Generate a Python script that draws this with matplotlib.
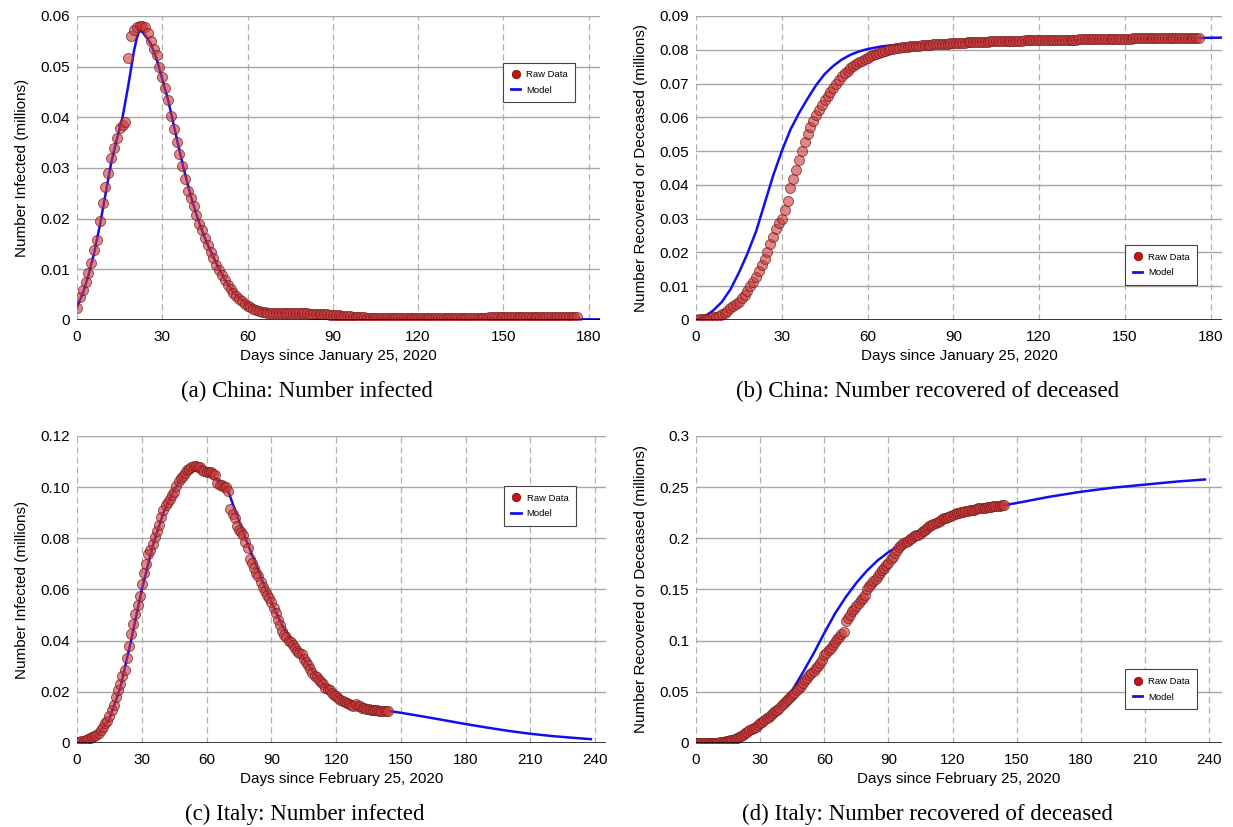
import numpy as np
import matplotlib
matplotlib.use("Agg")
import matplotlib.pyplot as plt
from matplotlib.lines import Line2D

plt.rcParams['font.family'] = ['Liberation Sans', 'DejaVu Sans']

# ---- China, active infections (millions), one value per day since Jan 25 ----
china_infected = [
    0.0023, 0.0045, 0.0060, 0.0074, 0.0092, 0.0113, 0.0138, 0.0158, 0.0195, 0.0230,
    0.0263, 0.0290, 0.0320, 0.0340, 0.0360, 0.0378, 0.0385, 0.0390, 0.0518, 0.0560,
    0.0572, 0.0578, 0.0580, 0.0580, 0.0578, 0.0566, 0.0550, 0.0535, 0.0522, 0.0500,
    0.0480, 0.0458, 0.0435, 0.0402, 0.0376, 0.0352, 0.0327, 0.0303, 0.0278, 0.0255,
    0.0240, 0.0224, 0.0207, 0.0190, 0.0177, 0.0161, 0.0148, 0.0135, 0.0122, 0.0109,
    0.0099, 0.0088, 0.0078, 0.0069, 0.0061, 0.0054, 0.0048, 0.0042, 0.0037, 0.0032,
    0.0028, 0.0025, 0.0022, 0.0020, 0.0018, 0.0016, 0.0015, 0.0014, 0.0014, 0.0014,
    0.0014, 0.0014, 0.0013, 0.0013, 0.0013, 0.0013, 0.0013, 0.0013, 0.0013, 0.0013,
    0.0013, 0.0013, 0.0012, 0.0012, 0.0012, 0.0012, 0.0011, 0.0011, 0.0011, 0.0010,
    0.0010, 0.0009, 0.0009, 0.0008, 0.0008, 0.0007, 0.0007, 0.0006, 0.0006, 0.0005,
    0.0005, 0.0005, 0.0004, 0.0004, 0.0004, 0.0004, 0.0003, 0.0003, 0.0003, 0.0003,
    0.0003, 0.0003, 0.0003, 0.0003, 0.0003, 0.0003, 0.0003, 0.0003, 0.0003, 0.0003,
    0.0003, 0.0003, 0.0003, 0.0003, 0.0003, 0.0003, 0.0003, 0.0003, 0.0003, 0.0003,
    0.0003, 0.0003, 0.0003, 0.0003, 0.0003, 0.0003, 0.0003, 0.0003, 0.0003, 0.0003,
    0.0003, 0.0003, 0.0004, 0.0004, 0.0004, 0.0005, 0.0005, 0.0005, 0.0005, 0.0005,
    0.0006, 0.0006, 0.0006, 0.0006, 0.0006, 0.0006, 0.0006, 0.0006, 0.0006, 0.0006,
    0.0006, 0.0006, 0.0006, 0.0006, 0.0006, 0.0006, 0.0005, 0.0005, 0.0005, 0.0005,
    0.0005, 0.0005, 0.0005, 0.0005, 0.0005, 0.0005, 0.0005,
]
china_inf_model_x = [0, 2, 4, 6, 8, 10, 12, 14, 16, 18, 20, 21, 22, 23, 24, 26, 28, 30,
                     32, 34, 36, 38, 40, 42, 44, 46, 48, 50, 52, 54, 56, 58, 60, 63, 66,
                     70, 75, 80, 90, 100, 110, 120, 140, 160, 185]
china_inf_model_y = [0.0026, 0.0052, 0.0088, 0.0132, 0.0186, 0.0248, 0.0310, 0.0357,
                     0.0400, 0.0462, 0.0530, 0.0556, 0.0572, 0.0568, 0.0562, 0.0545,
                     0.0515, 0.0475, 0.0435, 0.0385, 0.0335, 0.0288, 0.0245, 0.0208,
                     0.0176, 0.0148, 0.0124, 0.0100, 0.0080, 0.0063, 0.0049, 0.0040,
                     0.0032, 0.0024, 0.0019, 0.0015, 0.0012, 0.0011, 0.0009, 0.0006,
                     0.0004, 0.0003, 0.0002, 0.0002, 0.0001]

# ---- China, recovered or deceased (millions) ----
china_removed = [
    0.0001, 0.0002, 0.0002, 0.0003, 0.0004, 0.0006, 0.0008, 0.0010, 0.0013, 0.0017,
    0.0022, 0.0027, 0.0034, 0.0040, 0.0047, 0.0054, 0.0064, 0.0075, 0.0087, 0.0100,
    0.0112, 0.0128, 0.0145, 0.0163, 0.0180, 0.0200, 0.0225, 0.0245, 0.0268, 0.0286,
    0.0300, 0.0325, 0.0353, 0.0390, 0.0418, 0.0445, 0.0474, 0.0500, 0.0528, 0.0552,
    0.0572, 0.0590, 0.0606, 0.0622, 0.0636, 0.0650, 0.0662, 0.0676, 0.0688, 0.0700,
    0.0711, 0.0721, 0.0731, 0.0738, 0.0745, 0.0752, 0.0758, 0.0763, 0.0768, 0.0773,
    0.0777, 0.0781, 0.0785, 0.0788, 0.0791, 0.0794, 0.0797, 0.0799, 0.0801, 0.0803,
    0.0805, 0.0806, 0.0807, 0.0808, 0.0809, 0.0810, 0.0811, 0.0811, 0.0812, 0.0813,
    0.0814, 0.0814, 0.0815, 0.0816, 0.0816, 0.0817, 0.0817, 0.0818, 0.0818, 0.0819,
    0.0819, 0.0820, 0.0820, 0.0821, 0.0821, 0.0822, 0.0822, 0.0823, 0.0823, 0.0823,
    0.0824, 0.0824, 0.0824, 0.0825, 0.0825, 0.0825, 0.0826, 0.0826, 0.0826, 0.0826,
    0.0827, 0.0827, 0.0827, 0.0827, 0.0827, 0.0828, 0.0828, 0.0828, 0.0828, 0.0828,
    0.0828, 0.0829, 0.0829, 0.0829, 0.0829, 0.0829, 0.0829, 0.0830, 0.0830, 0.0830,
    0.0830, 0.0830, 0.0830, 0.0830, 0.0831, 0.0831, 0.0831, 0.0831, 0.0831, 0.0831,
    0.0831, 0.0832, 0.0832, 0.0832, 0.0832, 0.0832, 0.0832, 0.0833, 0.0833, 0.0833,
    0.0833, 0.0833, 0.0833, 0.0834, 0.0834, 0.0834, 0.0834, 0.0834, 0.0834, 0.0835,
    0.0835, 0.0835, 0.0835, 0.0835, 0.0835, 0.0835, 0.0836, 0.0836, 0.0836, 0.0836,
    0.0836, 0.0836, 0.0836, 0.0836, 0.0836, 0.0836, 0.0836,
]
china_rem_model_x = [0, 3, 6, 9, 12, 15, 18, 21, 24, 27, 30, 33, 36, 39, 42, 45, 48, 51,
                     54, 57, 60, 65, 70, 80, 100, 130, 160, 185]
china_rem_model_y = [0.0002, 0.0010, 0.0028, 0.0053, 0.0090, 0.0140, 0.0197, 0.0262,
                     0.0345, 0.0428, 0.0500, 0.0563, 0.0612, 0.0655, 0.0695, 0.0728,
                     0.0752, 0.0771, 0.0785, 0.0795, 0.0802, 0.0810, 0.0814, 0.0818,
                     0.0824, 0.0829, 0.0833, 0.0836]

# ---- Italy, active infections (millions), days since Feb 25 ----
italy_infected = [
    0.0003, 0.0004, 0.0006, 0.0008, 0.0010, 0.0016, 0.0018, 0.0023, 0.0027, 0.0033,
    0.0039, 0.0051, 0.0064, 0.0080, 0.0085, 0.0106, 0.0128, 0.0150, 0.0178, 0.0206,
    0.0231, 0.0261, 0.0287, 0.0332, 0.0379, 0.0427, 0.0466, 0.0504, 0.0540, 0.0575,
    0.0620, 0.0664, 0.0701, 0.0739, 0.0755, 0.0776, 0.0806, 0.0830, 0.0854, 0.0883,
    0.0912, 0.0932, 0.0941, 0.0953, 0.0969, 0.0983, 0.1003, 0.1023, 0.1036, 0.1043,
    0.1054, 0.1066, 0.1070, 0.1078, 0.1083, 0.1082, 0.1077, 0.1077, 0.1068, 0.1065,
    0.1058, 0.1061, 0.1058, 0.1052, 0.1047, 0.1016, 0.1009, 0.1007, 0.1002, 0.1000,
    0.0985, 0.0915, 0.0896, 0.0880, 0.0848, 0.0833, 0.0825, 0.0813, 0.0785, 0.0764,
    0.0721, 0.0702, 0.0684, 0.0666, 0.0651, 0.0628, 0.0610, 0.0593, 0.0578, 0.0566,
    0.0553, 0.0529, 0.0510, 0.0480, 0.0462, 0.0437, 0.0421, 0.0414, 0.0399, 0.0393,
    0.0384, 0.0370, 0.0359, 0.0353, 0.0347, 0.0329, 0.0317, 0.0306, 0.0290, 0.0275,
    0.0263, 0.0259, 0.0246, 0.0239, 0.0231, 0.0215, 0.0210, 0.0206, 0.0196, 0.0187,
    0.0183, 0.0176, 0.0168, 0.0165, 0.0160, 0.0156, 0.0153, 0.0149, 0.0146, 0.0151,
    0.0146, 0.0143, 0.0136, 0.0135, 0.0133, 0.0132, 0.0129, 0.0129, 0.0129, 0.0127,
    0.0126, 0.0125, 0.0124, 0.0124, 0.0124,
]
italy_inf_model_x = [0, 5, 10, 15, 20, 25, 30, 35, 40, 45, 50, 54, 58, 62, 66, 70, 74,
                     78, 82, 86, 90, 95, 100, 105, 110, 115, 120, 125, 130, 135, 140,
                     145, 150, 160, 170, 180, 190, 200, 210, 220, 230, 238]
italy_inf_model_y = [0.0003, 0.0012, 0.0035, 0.0095, 0.0215, 0.0400, 0.0600, 0.0770,
                     0.0900, 0.0990, 0.1055, 0.1078, 0.1072, 0.1050, 0.1020, 0.0985,
                     0.0890, 0.0800, 0.0715, 0.0630, 0.0550, 0.0460, 0.0390, 0.0330,
                     0.0270, 0.0220, 0.0185, 0.0160, 0.0143, 0.0133, 0.0127, 0.0124,
                     0.0118, 0.0104, 0.0089, 0.0074, 0.0060, 0.0047, 0.0036, 0.0027,
                     0.0020, 0.0015]

# ---- Italy, recovered or deceased (millions) ----
italy_removed = [
    0.0000, 0.0000, 0.0001, 0.0001, 0.0001, 0.0001, 0.0001, 0.0002, 0.0002, 0.0003,
    0.0004, 0.0006, 0.0010, 0.0011, 0.0016, 0.0021, 0.0026, 0.0032, 0.0038, 0.0046,
    0.0054, 0.0067, 0.0079, 0.0093, 0.0109, 0.0124, 0.0134, 0.0148, 0.0160, 0.0175,
    0.0191, 0.0205, 0.0222, 0.0240, 0.0257, 0.0275, 0.0290, 0.0308, 0.0325, 0.0346,
    0.0371, 0.0389, 0.0407, 0.0425, 0.0446, 0.0468, 0.0490, 0.0515, 0.0540, 0.0560,
    0.0586, 0.0612, 0.0635, 0.0660, 0.0684, 0.0705, 0.0732, 0.0757, 0.0784, 0.0812,
    0.0860, 0.0877, 0.0906, 0.0929, 0.0953, 0.0990, 0.1016, 0.1037, 0.1062, 0.1080,
    0.1190, 0.1225, 0.1252, 0.1288, 0.1312, 0.1340, 0.1365, 0.1395, 0.1420, 0.1450,
    0.1505, 0.1530, 0.1553, 0.1580, 0.1600, 0.1636, 0.1662, 0.1688, 0.1713, 0.1735,
    0.1755, 0.1795, 0.1822, 0.1860, 0.1885, 0.1912, 0.1937, 0.1950, 0.1968, 0.1977,
    0.1989, 0.2006, 0.2019, 0.2028, 0.2035, 0.2056, 0.2070, 0.2083, 0.2101, 0.2118,
    0.2131, 0.2137, 0.2152, 0.2160, 0.2170, 0.2187, 0.2195, 0.2200, 0.2211, 0.2222,
    0.2227, 0.2235, 0.2244, 0.2249, 0.2255, 0.2261, 0.2266, 0.2270, 0.2275, 0.2273,
    0.2279, 0.2284, 0.2292, 0.2295, 0.2298, 0.2301, 0.2305, 0.2307, 0.2309, 0.2312,
    0.2315, 0.2318, 0.2320, 0.2322, 0.2324,
]
italy_rem_model_x = [0, 10, 15, 20, 25, 30, 35, 40, 45, 50, 55, 60, 65, 70, 75, 80, 85,
                     90, 95, 100, 105, 110, 115, 120, 125, 130, 140, 145, 150, 165, 180,
                     195, 210, 225, 238]
italy_rem_model_y = [0.0002, 0.0008, 0.0025, 0.0055, 0.0115, 0.0190, 0.0278, 0.0378,
                     0.0515, 0.0690, 0.0875, 0.1075, 0.1265, 0.1425, 0.1565, 0.1685,
                     0.1785, 0.1865, 0.1930, 0.1985, 0.2050, 0.2110, 0.2170, 0.2222,
                     0.2258, 0.2283, 0.2313, 0.2327, 0.2345, 0.2405, 0.2455, 0.2495,
                     0.2525, 0.2555, 0.2575]

panels = [
    dict(pos=[0.0625, 0.6131, 0.4241, 0.3676], data=china_infected,
         mx=china_inf_model_x, my=china_inf_model_y, xmax=184, xstep=30, xtop=180,
         ymax=0.06, yticks=[0, 0.01, 0.02, 0.03, 0.04, 0.05, 0.06],
         ylabels=['0', '0.01', '0.02', '0.03', '0.04', '0.05', '0.06'],
         ylabel='Number Infected (millions)', xlabel='Days since January 25, 2020',
         legend_anchor=(0.962, 0.862), caption='(a) China: Number infected',
         cap_xy=(0.249, 0.527)),
    dict(pos=[0.5645, 0.6131, 0.4266, 0.3676], data=china_removed,
         mx=china_rem_model_x, my=china_rem_model_y, xmax=184, xstep=30, xtop=180,
         ymax=0.09, yticks=[0, 0.01, 0.02, 0.03, 0.04, 0.05, 0.06, 0.07, 0.08, 0.09],
         ylabels=['0', '0.01', '0.02', '0.03', '0.04', '0.05', '0.06', '0.07', '0.08', '0.09'],
         ylabel='Number Recovered or Deceased (millions)',
         xlabel='Days since January 25, 2020',
         legend_anchor=(0.962, 0.262),
         caption='(b) China: Number recovered of deceased', cap_xy=(0.752, 0.527)),
    dict(pos=[0.0625, 0.1016, 0.4290, 0.3712], data=italy_infected,
         mx=italy_inf_model_x, my=italy_inf_model_y, xmax=245, xstep=30, xtop=240,
         ymax=0.12, yticks=[0, 0.02, 0.04, 0.06, 0.08, 0.10, 0.12],
         ylabels=['0', '0.02', '0.04', '0.06', '0.08', '0.10', '0.12'],
         ylabel='Number Infected (millions)', xlabel='Days since February 25, 2020',
         legend_anchor=(0.952, 0.852), caption='(c) Italy: Number infected',
         cap_xy=(0.247, 0.0157)),
    dict(pos=[0.5645, 0.1016, 0.4266, 0.3712], data=italy_removed,
         mx=italy_rem_model_x, my=italy_rem_model_y, xmax=246, xstep=30, xtop=240,
         ymax=0.3, yticks=[0, 0.05, 0.1, 0.15, 0.2, 0.25, 0.3],
         ylabels=['0', '0.05', '0.1', '0.15', '0.2', '0.25', '0.3'],
         ylabel='Number Recovered or Deceased (millions)',
         xlabel='Days since February 25, 2020',
         legend_anchor=(0.962, 0.255),
         caption='(d) Italy: Number recovered of deceased', cap_xy=(0.752, 0.0157)),
]

fig = plt.figure(figsize=(12.33, 8.27), dpi=100)

for p in panels:
    ax = fig.add_axes(p['pos'])
    days = np.arange(len(p['data']))

    # grid: solid horizontal, dashed vertical
    ax.set_axisbelow(True)
    ax.grid(axis='y', color='#a6a6a6', linewidth=1.0, linestyle='-')
    ax.grid(axis='x', color='#b0b0b0', linewidth=0.9, linestyle=(0, (5, 3)))

    ax.plot(p['mx'], p['my'], color='#1010ee', linewidth=1.8, zorder=2)
    ax.scatter(days, p['data'], s=52, facecolor=(0.80, 0.22, 0.22, 0.6),
               edgecolor=(0.45, 0.10, 0.10, 0.7), linewidth=0.7, zorder=3)

    ax.axhline(0, color='black', linewidth=1.8, zorder=4)

    ax.set_xlim(0, p['xmax'])
    ax.set_ylim(0, p['ymax'])
    ax.set_xticks(np.arange(0, p['xtop'] + 1, p['xstep']))
    ax.set_yticks(p['yticks'])
    ax.set_yticklabels(p['ylabels'])
    ax.tick_params(length=0, labelsize=11)
    ax.tick_params(axis='y', pad=5)
    ax.tick_params(axis='x', pad=7)
    for s in ax.spines.values():
        s.set_visible(False)

    ax.set_ylabel(p['ylabel'], fontsize=11, labelpad=8)
    ax.set_xlabel(p['xlabel'], fontsize=11, labelpad=4)

    handles = [
        Line2D([], [], linestyle='none', marker='o', markersize=6,
               markerfacecolor='#cc1111', markeredgecolor='#7a1010', markeredgewidth=0.6),
        Line2D([], [], color='#1010ee', linewidth=2),
    ]
    leg = ax.legend(handles, ['Raw Data', 'Model'], loc='upper right',
                    bbox_to_anchor=p['legend_anchor'], fontsize=6.8, fancybox=False,
                    framealpha=1, edgecolor='#444444', handlelength=1.0,
                    handletextpad=0.6, borderpad=0.8, labelspacing=0.7)
    leg.get_frame().set_linewidth(0.8)

    fig.text(p['cap_xy'][0], p['cap_xy'][1], p['caption'], ha='center', va='center',
             fontsize=16.5, family=['Liberation Serif', 'DejaVu Serif'])

fig.savefig('out.png', dpi=100)
